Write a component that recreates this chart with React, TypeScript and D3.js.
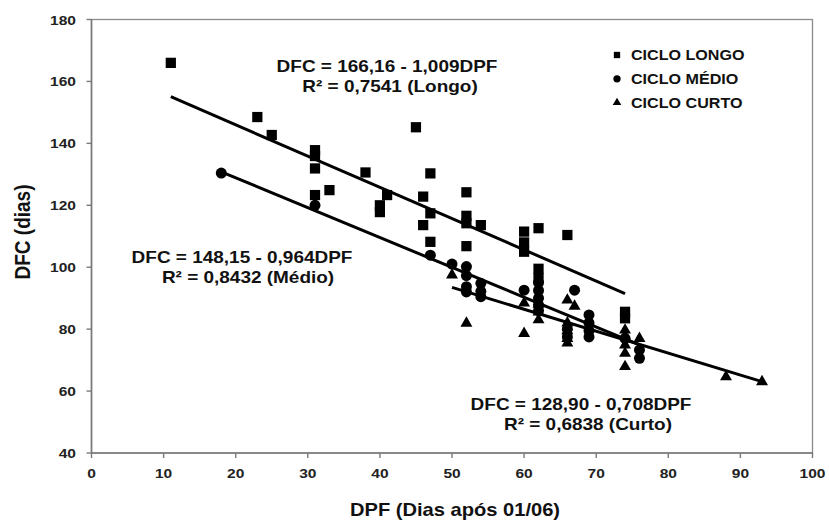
import React from "react";
import * as d3 from "d3";

const longoX = [11, 23, 25, 31, 31, 31, 31, 33, 38, 40, 40, 41, 45, 47, 46, 47, 46, 47, 52, 52, 52, 54, 52, 60, 60, 60, 62, 66, 62, 62, 74, 74];
const longoY = [166, 148.5, 142.7, 137.8, 135.9, 131.9, 123.3, 124.9, 130.6, 120, 117.8, 123.3, 145.2, 130.3, 122.8, 117.4, 113.6, 108.2, 124.2, 116.6, 114.2, 113.6, 106.8, 111.5, 108, 105, 112.6, 110.4, 99.5, 96.5, 85.6, 83.5];

const medioX = [18, 31, 47, 50, 52, 52, 52, 52, 54, 54, 54, 60, 62, 62, 62, 62, 62, 67, 69, 69, 69, 69, 66, 66, 74, 76, 76];
const medioY = [130.4, 120, 103.9, 101, 100.2, 97.3, 93.7, 92, 94.8, 92.2, 90.5, 92.6, 95, 92.5, 90, 87.8, 86, 92.6, 84.6, 82, 79.5, 77.5, 80, 77.5, 77, 73.3, 70.6];

const curtoX = [50, 52, 60, 60, 62, 62, 62, 66, 67, 66, 66, 66, 66, 74, 74, 74, 74, 74, 76, 88, 93];
const curtoY = [97.5, 81.9, 78.6, 88.4, 83, 85.5, 88, 89.4, 87.4, 82, 79.5, 77, 75.5, 79.7, 77.8, 74.9, 72.2, 67.9, 77, 64.6, 63];

// regression equations: [intercept, slope, xStart, xEnd]
const regLongo = [166.16, -1.009, 11, 74];
const regMedio = [148.15, -0.964, 18, 76];
const regCurto = [128.9, -0.708, 50, 93];

const xTicks = [0, 10, 20, 30, 40, 50, 60, 70, 80, 90, 100];
const yTicks = [40, 60, 80, 100, 120, 140, 160, 180];

const legendLabels = ["CICLO LONGO", "CICLO MÉDIO", "CICLO CURTO"];
const eqLabels = [
  ["DFC = 166,16 - 1,009DPF", "R² = 0,7541 (Longo)"],
  ["DFC = 148,15 - 0,964DPF", "R² = 0,8432 (Médio)"],
  ["DFC = 128,90 - 0,708DPF", "R² = 0,6838 (Curto)"],
];

const FONT = "'Liberation Sans', Arial, sans-serif";
const SX = 1.15;

function T({ x, y, size, anchor = "middle", weight = "bold", fill = "#111", children }: any) {
  return (
    <text
      transform={`translate(${x},${y}) scale(${SX},1)`}
      textAnchor={anchor}
      fontFamily={FONT}
      fontSize={size}
      fontWeight={weight}
      fill={fill}
    >
      {children}
    </text>
  );
}

export default function App() {
  const W = 829, H = 522;
  const x = d3.scaleLinear().domain([0, 100]).range([91.5, 812.5]);
  const y = d3.scaleLinear().domain([40, 180]).range([453, 19.5]);

  const sq = d3.symbol().type(d3.symbolSquare).size(105)();
  const ci = d3.symbol().type(d3.symbolCircle).size(95)();
  const tr = d3.symbol().type(d3.symbolTriangle).size(62)();
  const sqL = d3.symbol().type(d3.symbolSquare).size(40)();
  const ciL = d3.symbol().type(d3.symbolCircle).size(42)();
  const trL = d3.symbol().type(d3.symbolTriangle).size(32)();

  const regPath = (r: number[]) => {
    const [a, b, x0, x1] = r;
    const l = d3.line<number>().x((v) => x(v)).y((v) => y(a + b * v));
    return l([x0, x1]) as string;
  };

  const axisColor = "#7a7a7a";
  const EQ = 16.5;

  return (
    <svg width={W} height={H} style={{ position: "absolute", left: 0, top: 0, background: "#fff" }}>
      <rect x={0} y={0} width={W} height={H} fill="#fff" />
      {/* frame */}
      <rect x={x(0)} y={y(180)} width={x(100) - x(0)} height={y(40) - y(180)} fill="none" stroke="#8a8a8a" strokeWidth={1.3} />
      {/* axes */}
      <line x1={x(0)} x2={x(0)} y1={y(180)} y2={y(40)} stroke={axisColor} strokeWidth={1.6} />
      <line x1={x(0)} x2={x(100)} y1={y(40)} y2={y(40)} stroke={axisColor} strokeWidth={1.6} />
      {yTicks.map((t) => (
        <g key={"y" + t}>
          <line x1={x(0) - 5} x2={x(0)} y1={y(t)} y2={y(t)} stroke={axisColor} strokeWidth={1.4} />
          <T x={76} y={y(t) + 5} size={13.5} anchor="end" fill="#222">{t}</T>
        </g>
      ))}
      {xTicks.map((t) => (
        <g key={"x" + t}>
          <line x1={x(t)} x2={x(t)} y1={y(40)} y2={y(40) + 5} stroke={axisColor} strokeWidth={1.4} />
          <T x={x(t)} y={478} size={13.5} fill="#222">{t}</T>
        </g>
      ))}
      {/* axis titles */}
      <text
        transform={`translate(30,232) rotate(-90) scale(1,${SX})`}
        textAnchor="middle"
        fontFamily={FONT}
        fontSize={19}
        fontWeight="bold"
        fill="#111"
      >
        DFC (dias)
      </text>
      <T x={455} y={516} size={17.5}>DPF (Dias após 01/06)</T>

      {/* regression lines */}
      {[regLongo, regMedio, regCurto].map((r, i) => (
        <path key={"r" + i} d={regPath(r)} stroke="#000" strokeWidth={3} fill="none" />
      ))}

      {/* points */}
      {longoX.map((v, i) => (
        <path key={"l" + i} d={sq!} transform={`translate(${x(v)},${y(longoY[i])})`} fill="#000" />
      ))}
      {medioX.map((v, i) => (
        <path key={"m" + i} d={ci!} transform={`translate(${x(v)},${y(medioY[i])})`} fill="#000" />
      ))}
      {curtoX.map((v, i) => (
        <path key={"c" + i} d={tr!} transform={`translate(${x(v)},${y(curtoY[i])})`} fill="#000" />
      ))}

      {/* equations */}
      <T x={387} y={72} size={EQ}>{eqLabels[0][0]}</T>
      <T x={390} y={92} size={EQ}>{eqLabels[0][1]}</T>
      <T x={242} y={263} size={EQ}>{eqLabels[1][0]}</T>
      <T x={248} y={283} size={EQ}>{eqLabels[1][1]}</T>
      <T x={581} y={410} size={EQ}>{eqLabels[2][0]}</T>
      <T x={588} y={430} size={EQ}>{eqLabels[2][1]}</T>

      {/* legend */}
      {[sqL, ciL, trL].map((s, i) => (
        <g key={"lg" + i}>
          <path d={s!} transform={`translate(617,${55 + i * 23.8})`} fill="#000" />
          <T x={631} y={55 + i * 23.8 + 5} size={14} anchor="start">{legendLabels[i]}</T>
        </g>
      ))}
    </svg>
  );
}
